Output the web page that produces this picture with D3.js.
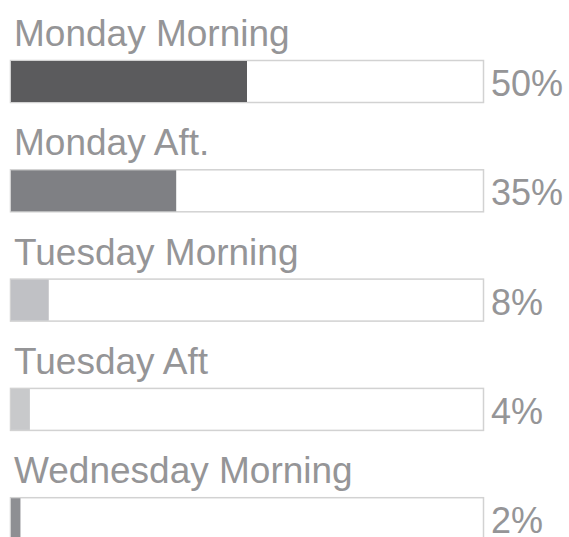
<!DOCTYPE html>
<html>
<head>
<meta charset="utf-8">
<script src="https://cdn.jsdelivr.net/npm/d3@7"></script>
<style>
  body { margin: 0; background: #fff; }
  svg { display: block; }
</style>
</head>
<body>
<svg id="chart" width="569" height="537"></svg>
<script>
// data
const categories = ["Monday Morning", "Monday Aft.", "Tuesday Morning", "Tuesday Aft", "Wednesday Morning"];
const values = [50, 35, 8, 4, 2];
const percentLabels = ["50%", "35%", "8%", "4%", "2%"];
const barColors = ["#5b5b5d", "#7f8084", "#c0c1c5", "#c8c9cb", "#8e8f93"];

const width = 569, height = 537;
const svg = d3.select("#chart");

const boxLeft = 10, boxRight = 484;

const x = d3.scaleLinear()
    .domain([0, 100])
    .range([boxLeft + 1, boxRight - 1]);

const y = d3.scaleBand()
    .domain(categories)
    .range([60, 540.2])
    .paddingInner(0.6066)
    .paddingOuter(0);

const rows = svg.selectAll("g.row")
    .data(categories)
    .enter()
    .append("g")
    .attr("class", "row");

// outline box
rows.append("rect")
    .attr("x", boxLeft + 0.5)
    .attr("y", d => y(d) + 0.5)
    .attr("width", boxRight - boxLeft - 1)
    .attr("height", y.bandwidth() - 1)
    .attr("fill", "#fff")
    .attr("stroke", "#d2d2d2")
    .attr("stroke-width", 1.5);

// filled bar
rows.append("rect")
    .attr("x", x(0))
    .attr("y", d => y(d) + 1)
    .attr("width", (d, i) => x(values[i]) - x(0))
    .attr("height", y.bandwidth() - 2)
    .attr("fill", (d, i) => barColors[i]);

// category label
rows.append("text")
    .attr("x", 14)
    .attr("y", d => y(d) - 14)
    .attr("font-family", "'Liberation Sans', Arial, sans-serif")
    .attr("font-size", 37)
    .attr("fill", "#959597")
    .text(d => d);

// percent label
rows.append("text")
    .attr("x", 491)
    .attr("y", d => y(d) + 36)
    .attr("font-family", "'Liberation Sans', Arial, sans-serif")
    .attr("font-size", 36)
    .attr("fill", "#959597")
    .text((d, i) => percentLabels[i]);
</script>
</body>
</html>
